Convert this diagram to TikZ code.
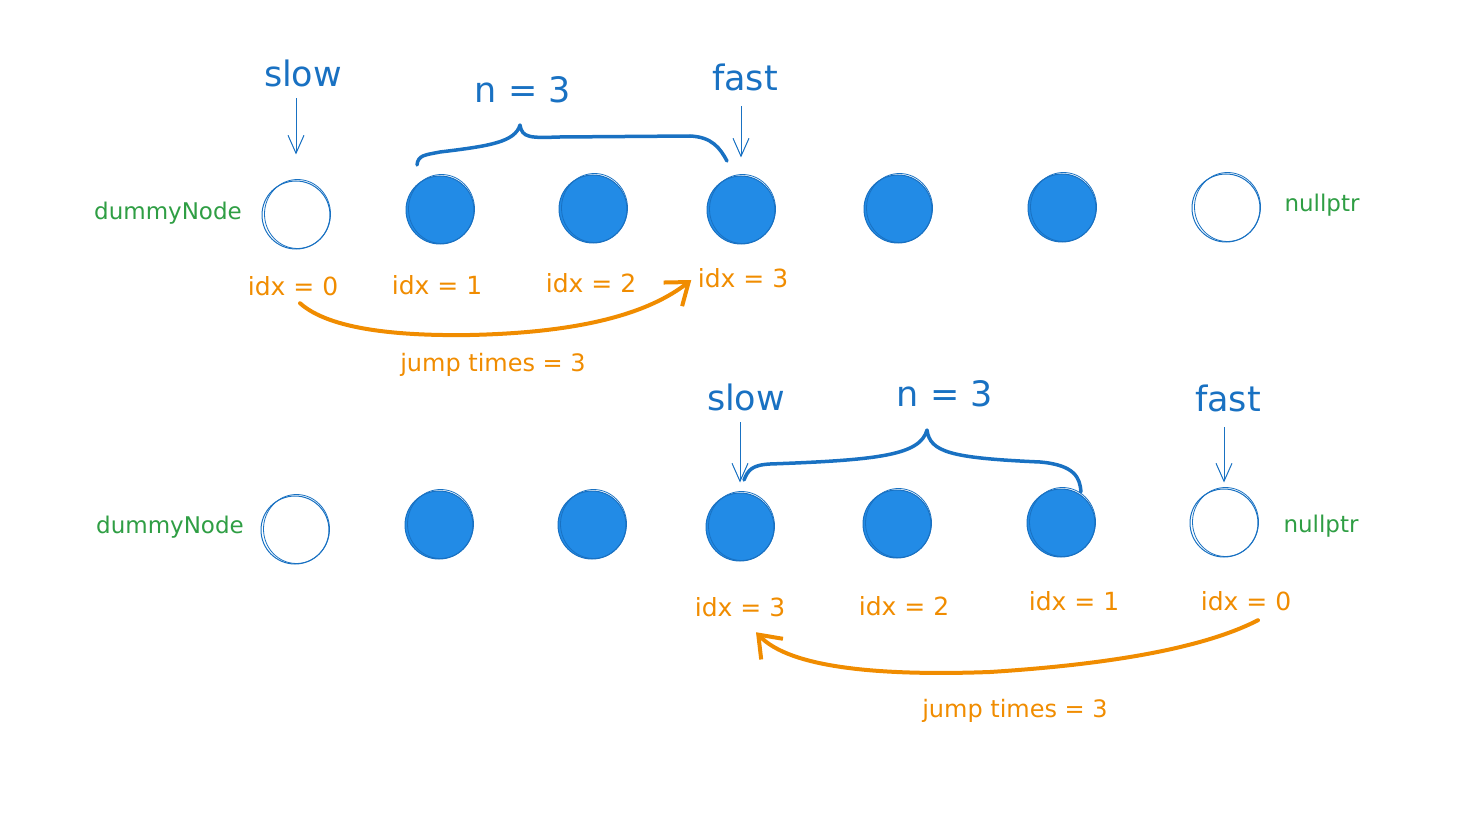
\documentclass[tikz,border=0pt]{standalone}
\usepackage{fontspec}
\setmainfont{DejaVu Sans}
\usetikzlibrary{arrows.meta}
\definecolor{inkblue}{HTML}{1971C2}
\definecolor{dotblue}{HTML}{228BE6}
\definecolor{leafgreen}{HTML}{2F9E44}
\definecolor{amber}{HTML}{F08C00}
\begin{document}
\begin{tikzpicture}[x=1pt,y=-1pt,
  full/.style={circle, draw=inkblue, fill=dotblue, line width=1, minimum size=68, inner sep=0},
  empty/.style={circle, draw=inkblue, line width=1, minimum size=68, inner sep=0},
  sketch/.style={draw=inkblue, line width=0.8},
  title/.style={text=inkblue, font=\fontsize{35}{40}\selectfont},
  side/.style={text=leafgreen, font=\fontsize{23}{28}\selectfont},
  idx/.style={text=amber, font=\fontsize{25}{30}\selectfont},
  jumptext/.style={text=amber, font=\fontsize{24}{28}\selectfont},
  ptr/.style={draw=inkblue, line width=1, -{Straight Barb[length=18,width=16]}},
  brace/.style={draw=inkblue, line width=3.5, line cap=round, line join=round},
  jump/.style={draw=amber, line width=4, line cap=round, line join=round,
               -{Straight Barb[length=20,width=30,line width=4]}}]
\useasboundingbox (0,0) rectangle (1468,813);

% ---------- first list: slow at the dummy node, fast three steps ahead ----------
\node[empty] (a0) at (296,215) {};
\node[full]  (a1) at (440,210) {};
\node[full]  (a2) at (593,209) {};
\node[full]  (a3) at (741,210) {};
\node[full]  (a4) at (898,209) {};
\node[full]  (a5) at (1062,208) {};
\node[empty] (a6) at (1226,208) {};

\node[side] (adummy) at (168,213) {dummyNode};
\node[side] (anull)  at (1322,205) {nullptr};

\node[title] (aslow) at (303,73) {slow};
\node[title] (afast) at (745,77) {fast};
\node[title] (agap)  at (523,90) {n = 3};

\draw[ptr, shorten <=8, shorten >=26] (aslow.south -| a0) -- (a0.north);
\draw[ptr, shorten <=12, shorten >=18] (afast.south -| a3) -- (a3.north);

\draw[brace] (417,165) .. controls (418,155) and (425,155) .. (440,152)
  .. controls (490,146) and (515,142) .. (520,125)
  .. controls (522,138) and (530,138) .. (560,137)
  -- (690,136) .. controls (712,137) and (720,148) .. (727,161);

\node[idx] (ai0) at (293,286) {idx = 0};
\node[idx] (ai1) at (437,285) {idx = 1};
\node[idx] (ai2) at (591,283) {idx = 2};
\node[idx] (ai3) at (743,278) {idx = 3};

\draw[jump] ([xshift=7,yshift=-4]ai0.south) .. controls (330,330) and (400,336) .. (470,335)
  .. controls (560,333) and (640,320) .. ([xshift=-3,yshift=-2]ai3.west);
\node[jumptext] (ajump) at (493,365) {jump times = 3};

% ---------- second list: fast at nullptr, slow three nodes behind ----------
\node[empty] (b0) at (295,530) {};
\node[full]  (b1) at (439,525) {};
\node[full]  (b2) at (592,525) {};
\node[full]  (b3) at (740,527) {};
\node[full]  (b4) at (897,524) {};
\node[full]  (b5) at (1061,523) {};
\node[empty] (b6) at (1224,523) {};

\node[side] (bdummy) at (170,527) {dummyNode};
\node[side] (bnull)  at (1321,526) {nullptr};

\node[title] (bslow) at (746,397) {slow};
\node[title] (bgap)  at (945,394) {n = 3};
\node[title] (bfast) at (1228,398) {fast};

\draw[ptr, shorten <=8, shorten >=10] (bslow.south -| b3) -- (b3.north);
\draw[ptr, shorten <=12, shorten >=6] (bfast.south -| b6) -- (b6.north);

\draw[brace] (744,480) .. controls (748,470) and (752,465) .. (770,464)
  .. controls (880,460) and (920,455) .. (927,430)
  .. controls (930,452) and (950,458) .. (1040,462)
  .. controls (1075,465) and (1080,478) .. (1081,492);

\node[idx] (bi3) at (740,607) {idx = 3};
\node[idx] (bi2) at (904,606) {idx = 2};
\node[idx] (bi1) at (1074,601) {idx = 1};
\node[idx] (bi0) at (1246,601) {idx = 0};

\draw[jump] ([xshift=12,yshift=-6]bi0.south) .. controls (1200,650) and (1100,665) .. (990,672)
  .. controls (880,676) and (790,668) .. ([xshift=16,yshift=-12]bi3.south);
\node[jumptext] (bjump) at (1015,711) {jump times = 3};

% ---------- second pencil stroke around every circle ----------
\foreach \n in {a0,a1,a2,a3,a4,a5,a6,b0,b1,b2,b3,b4,b5,b6}
  \draw[sketch] ([shift={(1.5,-1)}]\n.center) ellipse [x radius=33, y radius=34.5];
\end{tikzpicture}
\end{document}
